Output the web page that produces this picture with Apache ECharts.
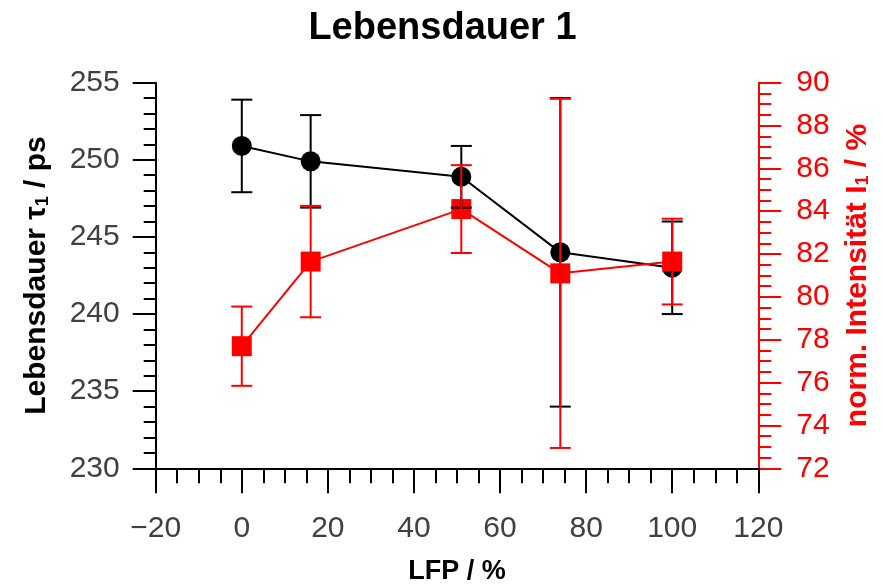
<!DOCTYPE html>
<html><head><meta charset="utf-8">
<script src="https://cdn.jsdelivr.net/npm/echarts@6/dist/echarts.min.js"></script>
<style>html,body{margin:0;padding:0;background:#fff}#c{width:885px;height:585px}</style>
</head><body><div id="c"></div>
<script>
const lfp = [0, 16, 51, 74, 100];
const tau = [250.9, 249.9, 248.9, 244.0, 243.0];
const tauErr = [3, 3, 2, 10, 3];
const intens = [77.7, 81.65, 84.1, 81.1, 81.65];
const intensErr = [1.85, 2.6, 2.05, 8.15, 2.0];
const titleText = 'Lebensdauer 1';

const FONT = "'Liberation Sans', Arial, sans-serif";
const chart = echarts.init(document.getElementById('c'));

function errItem(color) {
  return function (params, api) {
    const x = api.value(0), lo = api.value(1), hi = api.value(2);
    const pLo = api.coord([x, lo]);
    const pHi = api.coord([x, hi]);
    const w = 10.5;
    const st = { stroke: color, lineWidth: 2 };
    return {
      type: 'group',
      children: [
        { type: 'line', shape: { x1: pLo[0], y1: pLo[1], x2: pHi[0], y2: pHi[1] }, style: st },
        { type: 'line', shape: { x1: pLo[0] - w, y1: pLo[1], x2: pLo[0] + w, y2: pLo[1] }, style: st },
        { type: 'line', shape: { x1: pHi[0] - w, y1: pHi[1], x2: pHi[0] + w, y2: pHi[1] }, style: st }
      ]
    };
  };
}

const tauData = lfp.map((x, i) => [x, tau[i]]);
const intData = lfp.map((x, i) => [x, intens[i]]);
const tauErrData = lfp.map((x, i) => [x, tau[i] - tauErr[i], tau[i] + tauErr[i]]);
const intErrData = lfp.map((x, i) => [x, intens[i] - intensErr[i], intens[i] + intensErr[i]]);

chart.setOption({
  animation: false,
  backgroundColor: '#fff',
  title: {
    text: titleText, left: 'center', top: 5,
    textStyle: { fontFamily: FONT, fontSize: 38, fontWeight: 'bold', color: '#000' }
  },
  grid: { left: 155.7, right: 126.7, top: 82.7, bottom: 116.7, containLabel: false, outerBoundsMode: 'none' },
  xAxis: {
    type: 'value', min: -20, max: 120, interval: 20,
    name: 'LFP / %', nameLocation: 'middle', nameGap: 90,
    nameTextStyle: { fontFamily: FONT, fontSize: 27, fontWeight: 'bold', color: '#000' },
    axisLine: { onZero: false, lineStyle: { color: '#000', width: 2 } },
    axisTick: { length: 25, lineStyle: { color: '#000', width: 2 } },
    minorTick: { show: true, splitNumber: 4, length: 15, lineStyle: { color: '#000', width: 2 } },
    splitLine: { show: false },
    axisLabel: { margin: 45, fontFamily: FONT, fontSize: 30, color: '#404040', formatter: v => (v < 0 ? '\u2212' + Math.abs(v) : String(v)) }
  },
  yAxis: [{
    type: 'value', min: 230, max: 255, interval: 5, position: 'left',
    name: '{a|Lebensdauer τ}{s|1}{a| / ps}', nameLocation: 'middle', nameGap: 104,
    nameTextStyle: { rich: {
      a: { fontFamily: FONT, fontSize: 30, fontWeight: 'bold', color: '#000' },
      s: { fontFamily: FONT, fontSize: 18, fontWeight: 'bold', color: '#000', verticalAlign: 'bottom', padding: [10, 0, 0, 0] }
    } },
    axisLine: { show: true, onZero: false, lineStyle: { color: '#000', width: 2 } },
    axisTick: { length: 23, lineStyle: { color: '#000', width: 2 } },
    minorTick: { show: true, splitNumber: 5, length: 12, lineStyle: { color: '#000', width: 2 } },
    splitLine: { show: false },
    axisLabel: { margin: 36, fontFamily: FONT, fontSize: 30, color: '#404040' }
  }, {
    type: 'value', min: 72, max: 90, interval: 2, position: 'right',
    name: '{a|norm. Intensität I}{s|1}{a| / %}', nameLocation: 'middle', nameGap: 84,
    nameTextStyle: { rich: {
      a: { fontFamily: FONT, fontSize: 30, fontWeight: 'bold', color: '#ff0000' },
      s: { fontFamily: FONT, fontSize: 18, fontWeight: 'bold', color: '#ff0000', verticalAlign: 'bottom', padding: [10, 0, 0, 0] }
    } },
    axisLine: { show: true, onZero: false, lineStyle: { color: '#ff0000', width: 2 } },
    axisTick: { length: 23, lineStyle: { color: '#ff0000', width: 2 } },
    minorTick: { show: true, splitNumber: 4, length: 13, lineStyle: { color: '#ff0000', width: 2 } },
    splitLine: { show: false },
    axisLabel: { margin: 38, fontFamily: FONT, fontSize: 30, color: '#ff0000' }
  }],
  series: [
    { type: 'line', yAxisIndex: 0, data: tauData, symbol: 'circle', symbolSize: 20,
      lineStyle: { color: '#000', width: 2 }, itemStyle: { color: '#000' }, z: 2 },
    { type: 'line', yAxisIndex: 1, data: intData, symbol: 'rect', symbolSize: 20,
      lineStyle: { color: '#ff0000', width: 2 }, itemStyle: { color: '#ff0000' }, z: 3 },
    { type: 'custom', yAxisIndex: 0, data: tauErrData, renderItem: errItem('#000'),
      encode: { x: 0, y: [1, 2] }, z: 4 },
    { type: 'custom', yAxisIndex: 1, data: intErrData, renderItem: errItem('#ff0000'),
      encode: { x: 0, y: [1, 2] }, z: 5 }
  ]
});
</script></body></html>
